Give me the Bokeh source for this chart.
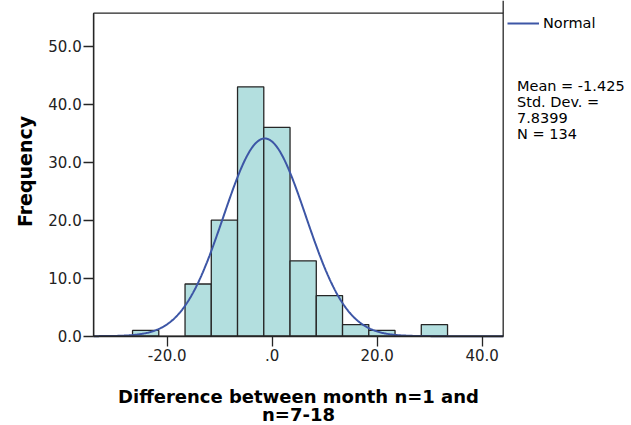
import numpy as np
from bokeh.plotting import figure
from bokeh.models import (Label, Legend, LegendItem, BoxAnnotation,
                          FixedTicker, Range1d)
from bokeh.embed import file_html
from bokeh.resources import INLINE

# ---- data ----
bin_edges = [-26.6, -21.6, -16.6, -11.6, -6.6, -1.6, 3.4, 8.4, 13.4, 18.4, 23.4, 28.4, 33.4]
counts = [1, 0, 9, 20, 43, 36, 13, 7, 2, 1, 0, 2]
mean = -1.425
std_dev = 7.8399
n_obs = 134
x_ticks = [-20, 0, 20, 40]
x_tick_labels = ["-20.0", ".0", "20.0", "40.0"]
y_ticks = [0, 10, 20, 30, 40, 50]
y_tick_labels = ["0.0", "10.0", "20.0", "30.0", "40.0", "50.0"]
stats_lines = ["Mean = -1.425", "Std. Dev. =", "7.8399", "N = 134"]
x_label_lines = ["Difference between month n=1 and", "n=7-18"]
y_label = "Frequency"
legend_label = "Normal"

# ---- layout constants (view covers the whole canvas) ----
X_MIN, X_BOX_MAX = -34.0, 44.0
X_VIEW = (-51.75, 68.44)
Y_BOX_MAX = 55.69
Y_VIEW = (-15.40, 57.88)
FONT = "DejaVu Sans"
BAR_FILL = "#b3dfdf"
EDGE = "#262626"
CURVE = "#3d56a6"
W, H = 631, 425

p = figure(width=W, height=H, output_backend="svg", toolbar_location=None,
           x_range=Range1d(*X_VIEW), y_range=Range1d(*Y_VIEW),
           min_border_left=0, min_border_right=0, min_border_top=0,
           min_border_bottom=0)
p.outline_line_color = None
p.grid.visible = False
p.background_fill_color = "white"
p.border_fill_color = "white"

# bars (skip empty bins)
lefts = [bin_edges[i] for i, c in enumerate(counts) if c > 0]
rights = [bin_edges[i + 1] for i, c in enumerate(counts) if c > 0]
tops = [c for c in counts if c > 0]
p.quad(left=lefts, right=rights, bottom=0, top=tops,
       fill_color=BAR_FILL, line_color=EDGE, line_width=1.3)

# fitted normal curve
bin_width = bin_edges[1] - bin_edges[0]
xs = np.linspace(X_MIN, X_BOX_MAX, 500)
ys = n_obs * bin_width * np.exp(-0.5 * ((xs - mean) / std_dev) ** 2) / (std_dev * np.sqrt(2 * np.pi))
curve = p.line(xs, ys, line_color=CURVE, line_width=2)

# plot box and the legend-panel edge above it
p.add_layout(BoxAnnotation(left=X_MIN, right=X_BOX_MAX, bottom=0, top=Y_BOX_MAX,
                           fill_alpha=0, fill_color=None, line_color=EDGE,
                           line_alpha=1, line_width=1.3))
p.segment(x0=[X_BOX_MAX], y0=[Y_BOX_MAX], x1=[X_BOX_MAX], y1=[Y_VIEW[1]],
          line_color=EDGE, line_width=1.3)

# axes drawn at the plot-box edges
xa = p.xaxis[0]
xa.fixed_location = 0
xa.ticker = FixedTicker(ticks=x_ticks)
xa.major_label_overrides = {t: s for t, s in zip(x_ticks, x_tick_labels)}
xa.bounds = (X_MIN, X_BOX_MAX)
ya = p.yaxis[0]
ya.fixed_location = X_MIN
ya.ticker = FixedTicker(ticks=y_ticks)
ya.major_label_overrides = {t: s for t, s in zip(y_ticks, y_tick_labels)}
ya.bounds = (0, Y_BOX_MAX)
for ax in (xa, ya):
    ax.minor_tick_line_color = None
    ax.major_tick_in = 0
    ax.major_tick_out = 10
    ax.major_tick_line_color = EDGE
    ax.major_tick_line_width = 1.3
    ax.axis_line_color = EDGE
    ax.axis_line_width = 1.3
    ax.major_label_text_font = FONT
    ax.major_label_text_font_size = "15px"
    ax.major_label_text_color = "#222222"
xa.major_label_standoff = 3
ya.major_label_standoff = 2

# axis titles
p.add_layout(Label(x=24, y=H - 171, x_units="screen", y_units="screen",
                   text=y_label, angle=np.pi / 2, text_align="center",
                   text_baseline="middle", text_font=FONT, text_font_style="bold",
                   text_font_size="19px", text_color="black"))
for line, cy in zip(x_label_lines, [396, 414]):
    p.add_layout(Label(x=298, y=H - cy, x_units="screen", y_units="screen",
                       text=line, text_align="center", text_baseline="middle",
                       text_font=FONT, text_font_style="bold",
                       text_font_size="18px", text_color="black"))

# legend
legend = Legend(items=[LegendItem(label=legend_label, renderers=[curve])],
                location=(507, H - 33), border_line_color=None,
                background_fill_alpha=0, padding=0, margin=0,
                glyph_width=32, glyph_height=20, label_standoff=4,
                label_text_font=FONT, label_text_font_size="14.5px",
                label_text_color="black")
p.add_layout(legend)

# statistics text
p.add_layout(Label(x=516.5, y=H - 77, x_units="screen", y_units="screen",
                   text="\n".join(stats_lines), text_align="left",
                   text_baseline="top", text_font=FONT, text_font_size="14.5px",
                   text_line_height=1.02, text_color="black"))

open("out.html", "w").write(file_html(p, INLINE))
